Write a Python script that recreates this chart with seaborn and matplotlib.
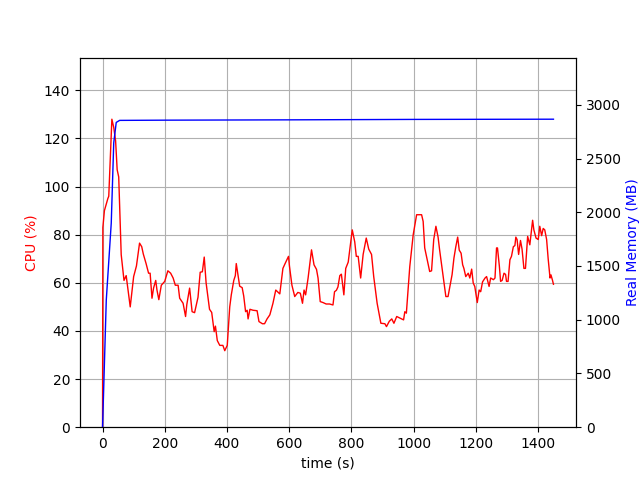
import matplotlib
matplotlib.use("Agg")
import matplotlib.pyplot as plt
import seaborn as sns
import pandas as pd

# CPU samples
cpu_time = [0, 1, 6, 17, 20, 30, 36, 42, 47, 52, 60, 69, 76, 89, 100, 109, 119, 126,
            131, 140, 148, 153, 159, 164, 171, 175, 181, 189, 200, 210, 219, 227, 234,
            243, 248, 259, 267, 271, 280, 288, 296, 307, 314, 321, 327, 333, 344, 351,
            359, 363, 369, 377, 387, 393, 401, 409, 414, 422, 427, 430, 436, 441, 449,
            454, 460, 465, 468, 474, 484, 497, 503, 514, 521, 529, 538, 548, 557, 570,
            580, 587, 598, 601, 609, 618, 628, 636, 643, 648, 653, 661, 672, 680, 688,
            693, 700, 709, 719, 730, 741, 746, 752, 757, 763, 768, 776, 782, 790, 795,
            803, 811, 816, 822, 830, 838, 848, 856, 865, 872, 879, 883, 889, 895, 908,
            913, 922, 930, 937, 946, 957, 968, 972, 977, 988, 999, 1010, 1026, 1031,
            1036, 1044, 1052, 1058, 1065, 1072, 1079, 1084, 1095, 1104, 1111, 1119,
            1124, 1130, 1136, 1142, 1147, 1153, 1158, 1162, 1168, 1176, 1181, 1187,
            1192, 1197, 1205, 1211, 1216, 1222, 1230, 1235, 1243, 1248, 1257, 1262,
            1267, 1270, 1276, 1280, 1285, 1291, 1296, 1299, 1304, 1310, 1315, 1321,
            1326, 1329, 1333, 1338, 1344, 1349, 1355, 1360, 1367, 1374, 1383, 1387,
            1394, 1401, 1406, 1412, 1417, 1422, 1428, 1433, 1439, 1442, 1447, 1450]
cpu_pct = [0, 83, 90, 95, 96, 128, 124.6, 119, 107, 104, 71.7, 61, 63, 50, 62.6, 67,
           76.5, 75, 72, 68, 64, 64, 53.6, 57.8, 61, 57, 53, 59, 60.6, 65, 64, 62, 59,
           59, 53.6, 51.5, 46, 51, 57.8, 48, 47.6, 54, 64.4, 64.6, 70.7, 60, 49, 47.7,
           39.7, 42, 36, 34, 34, 31.8, 34, 50, 55, 61, 63, 68, 63, 58.6, 58, 54.5, 48,
           48.6, 45, 49, 48.6, 48.4, 43.9, 43, 43, 45, 46.7, 51.5, 57, 55.4, 66, 68, 71,
           67, 59, 54.3, 56, 55.7, 51.5, 57, 55, 62, 73.7, 67.5, 65.6, 62, 52.2, 51.8,
           51.2, 51.2, 50.8, 56.3, 56.9, 58.3, 63, 63.6, 55, 66, 68.6, 73.7, 82, 77, 71,
           71, 62, 71.8, 78.6, 74, 71.8, 62.6, 55.7, 51.5, 47.4, 43.2, 43, 41.8, 44, 45,
           43.2, 46, 45.3, 44.6, 48, 47.4, 66.8, 80, 88.3, 88.3, 85.5, 74.5, 69.6, 64.7,
           65, 78, 83.5, 79, 73.6, 63, 54.3, 54.3, 60, 63.4, 70.3, 75, 79, 73.6, 72.3,
           67.5, 66, 62.6, 64, 62, 65.7, 59.9, 58.5, 51.8, 57, 56.3, 60.4, 62, 62.6,
           58.5, 62, 61.3, 62, 74.5, 74.5, 67, 60.6, 61, 64, 63.5, 60.6, 60.6, 69.6, 71,
           75, 75.5, 79, 78, 71.8, 77.6, 74, 66, 66, 79.3, 75.8, 86, 82, 78.6, 78, 83.5,
           79.6, 82.6, 82, 78, 70, 62, 63.3, 61, 59.4]

# resident memory samples
mem_time = [0, 12, 28, 36, 44, 55, 200, 600, 1000, 1450]
mem_mb = [0, 1183, 1900, 2646, 2836, 2855, 2857, 2860, 2864, 2866]

cpu_df = pd.DataFrame({"time": cpu_time, "cpu": cpu_pct})
mem_df = pd.DataFrame({"time": mem_time, "mem": mem_mb})

fig, ax = plt.subplots(figsize=(6.4, 4.8), dpi=100)
sns.lineplot(data=cpu_df, x="time", y="cpu", ax=ax, color="red", lw=1, sort=False)
ax.set_xlabel("time (s)")
ax.set_ylabel("CPU (%)", color="red")
ax.set_ylim(0, max(cpu_pct) * 1.2)
ax.grid(True)

ax2 = ax.twinx()
sns.lineplot(data=mem_df, x="time", y="mem", ax=ax2, color="blue", lw=1, sort=False)
ax2.set_ylabel("Real Memory (MB)", color="blue")
ax2.set_ylim(0, max(mem_mb) * 1.2)

fig.savefig("out.png")
